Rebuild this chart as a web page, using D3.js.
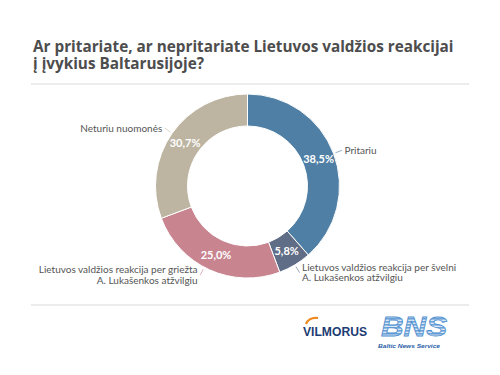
<!DOCTYPE html>
<html>
<head>
<meta charset="utf-8">
<script src="https://cdn.jsdelivr.net/npm/d3@7"></script>
<style>
  body { margin: 0; background: #fff; }
  svg { display: block; }
</style>
</head>
<body>
<div class="svgcontainer"></div>
<script>
const titleLines = ["Ar pritariate, ar nepritariate Lietuvos valdžios reakcijai", "į įvykius Baltarusijoje?"]
const categories = ["Pritariu", "Lietuvos valdžios reakcija per švelni|A. Lukašenkos atžvilgiu",
  "Lietuvos valdžios reakcija per griežta|A. Lukašenkos atžvilgiu", "Neturiu nuomonės"]
const values = [38.5, 5.8, 25.0, 30.7]
const colors = ["#4f7fa4", "#5f6d87", "#c8848f", "#bdb5a1"]
// where the leader line touches the ring (degrees, clockwise from top)
const labelAngles = [69.3, 149, 208, 305]

const width = 500, height = 375
const cx = 247.5, cy = 186
const outerR = 92, innerR = 60

const svg = d3.select(".svgcontainer")
  .append("svg")
  .attr("width", width)
  .attr("height", height)

// title
svg.append("text")
  .attr("font-family", "'Open Sans', sans-serif")
  .attr("font-weight", 700)
  .attr("font-size", 15.3)
  .attr("fill", "#4d4d4d")
  .selectAll("tspan")
  .data(titleLines)
  .join("tspan")
  .attr("x", 33)
  .attr("y", (d, i) => 51.7 + i * 16.8)
  .text(d => d)

svg.append("line")
  .attr("x1", 31).attr("x2", 469)
  .attr("y1", 84).attr("y2", 84)
  .attr("stroke", "#e6e6e6").attr("stroke-width", 1.5)

svg.append("line")
  .attr("x1", 31).attr("x2", 469)
  .attr("y1", 305).attr("y2", 305)
  .attr("stroke", "#e6e6e6").attr("stroke-width", 1.5)

// donut
const pie = d3.pie().sort(null).value(d => d)
const arcs = pie(values)
const arc = d3.arc().innerRadius(innerR).outerRadius(outerR)
const midArc = d3.arc().innerRadius((innerR + outerR) / 2).outerRadius((innerR + outerR) / 2)

const g = svg.append("g").attr("transform", `translate(${cx},${cy})`)

g.selectAll("path.slice")
  .data(arcs)
  .join("path")
  .attr("class", "slice")
  .attr("d", arc)
  .attr("fill", (d, i) => colors[i])
  .attr("stroke", "#fff")
  .attr("stroke-width", 1)

g.selectAll("text.pct")
  .data(arcs)
  .join("text")
  .attr("class", "pct")
  .attr("transform", d => `translate(${midArc.centroid(d)})`)
  .attr("text-anchor", "middle")
  .attr("dy", "0.35em")
  .attr("font-family", "Lato, sans-serif")
  .attr("font-weight", 700)
  .attr("font-size", 11)
  .attr("fill", "#fff")
  .text(d => d.data.toFixed(1).replace(".", ",") + "%")

// outside labels
const polar = (r, deg) => {
  const a = deg * Math.PI / 180
  return [r * Math.sin(a), -r * Math.cos(a)]
}

categories.forEach((cat, i) => {
  const a = labelAngles[i]
  const p0 = polar(outerR + 2, a)
  const p1 = polar(outerR + 9, a)
  const side = a < 180 ? 1 : -1
  g.append("line")
    .attr("x1", p0[0]).attr("y1", p0[1])
    .attr("x2", p1[0]).attr("y2", p1[1])
    .attr("stroke", colors[i])
    .attr("stroke-opacity", 0.6)
    .attr("stroke-width", 1)

  const lines = cat.split("|")
  const lh = 10.5
  g.append("text")
    .attr("text-anchor", side > 0 ? "start" : "end")
    .attr("font-family", "Lato, sans-serif")
    .attr("font-size", 10)
    .attr("fill", "#555")
    .selectAll("tspan")
    .data(lines)
    .join("tspan")
    .attr("x", p1[0] + side * 2.5)
    .attr("y", (d, j) => p1[1] + (j - (lines.length - 1) / 2) * lh)
    .attr("dy", "0.35em")
    .text(d => d)
})

// logos
const logos = svg.append("g")
logos.append("path")
  .attr("d", "M306,324 Q309,317 318,318")
  .attr("fill", "none")
  .attr("stroke", "#ef8a22")
  .attr("stroke-width", 2.2)
logos.append("text")
  .attr("x", 303).attr("y", 336)
  .attr("font-family", "Liberation Sans, Arial, sans-serif")
  .attr("font-weight", 700)
  .attr("font-size", 12)
  .attr("textLength", 64)
  .attr("lengthAdjust", "spacingAndGlyphs")
  .attr("fill", "#1d3c73")
  .text("VILMORUS")

const defs = svg.append("defs")
const pat = defs.append("pattern")
  .attr("id", "stripes")
  .attr("patternUnits", "userSpaceOnUse")
  .attr("width", 4).attr("height", 3)
pat.append("rect").attr("width", 4).attr("height", 3).attr("fill", "#dbe8f6")
pat.append("rect").attr("width", 4).attr("height", 1.6).attr("fill", "#6da2d8")

logos.append("text")
  .attr("x", 381).attr("y", 335.5)
  .attr("font-family", "Liberation Sans, Arial, sans-serif")
  .attr("font-weight", 700)
  .attr("font-style", "italic")
  .attr("font-size", 28)
  .attr("textLength", 66)
  .attr("lengthAdjust", "spacingAndGlyphs")
  .attr("fill", "url(#stripes)")
  .attr("stroke", "#4f8fd0")
  .attr("stroke-width", 0.8)
  .text("BNS")
logos.append("text")
  .attr("x", 378).attr("y", 347.5)
  .attr("font-family", "Liberation Sans, Arial, sans-serif")
  .attr("font-weight", 700)
  .attr("font-style", "italic")
  .attr("font-size", 6)
  .attr("textLength", 62)
  .attr("lengthAdjust", "spacingAndGlyphs")
  .attr("fill", "#2b5ea6")
  .text("Baltic News Service")
</script>
</body>
</html>
